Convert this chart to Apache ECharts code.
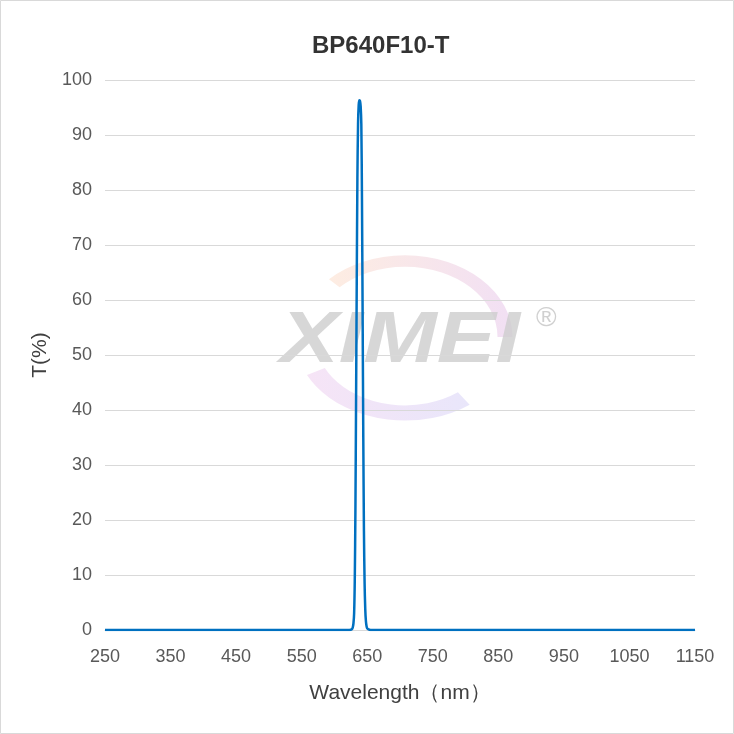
<!DOCTYPE html>
<html>
<head>
<meta charset="utf-8">
<script src="https://cdn.jsdelivr.net/npm/echarts@6/dist/echarts.min.js"></script>
<style>
html,body{margin:0;padding:0;background:#fff;}
#c{width:734px;height:734px;}
</style>
</head>
<body>
<div id="c"></div>
<script>
const title = 'BP640F10-T';
const xName = 'Wavelength（nm）';
const yName = 'T(%)';
const wavelength = [250, 300, 400, 500, 600, 620, 625, 627, 628, 629, 630, 631, 632, 633, 634, 635, 636, 637, 638, 639, 640, 641, 642, 643, 644, 645, 646, 647, 648, 649, 650, 652, 655, 660, 700, 800, 900, 1000, 1100, 1150];
const transmittance = [0, 0, 0, 0, 0, 0, 0.05, 0.2, 0.5, 1.2, 3, 9, 22, 42, 63, 82, 92, 95.5, 96.3, 96.2, 95.2, 92, 78, 57, 35, 18, 8.5, 3.8, 1.6, 0.7, 0.3, 0.1, 0, 0, 0, 0, 0, 0, 0, 0];
const xMin = 250, xMax = 1150, xLabelStep = 100;
const yMin = 0, yMax = 100, yStep = 10;

const points = wavelength.map((w, i) => [w, transmittance[i]]);
const chart = echarts.init(document.getElementById('c'), null, {renderer: 'canvas'});
const labelFont = '"Liberation Sans", "DejaVu Sans", sans-serif';
chart.setOption({
  animation: false,
  backgroundColor: '#fff',
  title: {
    text: title, left: 307, top: 29,
    textStyle: {fontSize: 24, fontWeight: 'bold', color: '#333', fontFamily: labelFont}
  },
  grid: {left: 105, right: 39, top: 80, bottom: 104, containLabel: false},
  graphic: [
    {type: 'rect', shape: {x: 0.5, y: 0.5, width: 733, height: 733}, style: {fill: 'none', stroke: '#d9d9d9', lineWidth: 1}, z: -10},
    {type: 'arc', shape: {cx: 0, cy: 0, r: 100, startAngle: Math.PI * 1.25, endAngle: Math.PI * 2.0},
     x: 405, y: 337, scaleX: 1.0, scaleY: 0.76,
     style: {fill: 'none', stroke: new echarts.graphic.LinearGradient(0, 0, 1, 0, [{offset: 0, color: 'rgba(252,215,190,0.45)'}, {offset: 1, color: 'rgba(225,185,230,0.45)'}]), lineWidth: 15}, z: -5, silent: true},
    {type: 'arc', shape: {cx: 0, cy: 0, r: 100, startAngle: Math.PI * 0.3, endAngle: Math.PI * 0.85},
     x: 405, y: 337, scaleX: 1.0, scaleY: 0.76,
     style: {fill: 'none', stroke: new echarts.graphic.LinearGradient(0, 0, 1, 0, [{offset: 0, color: 'rgba(235,195,235,0.45)'}, {offset: 1, color: 'rgba(205,200,245,0.45)'}]), lineWidth: 20}, z: -5, silent: true},
    {type: 'text', x: 280, y: 306, scaleX: 1.16, scaleY: 0.95, style: {text: 'XIMEI', fontSize: 76, fontWeight: 'bold', fontStyle: 'italic', fontFamily: labelFont, fill: 'rgba(205,205,205,0.8)'}, z: -4, silent: true},
    {type: 'text', x: 536, y: 304, style: {text: '®', fontSize: 28, fontFamily: labelFont, fill: 'rgba(200,200,200,0.85)'}, z: -4, silent: true}
  ],
  xAxis: {
    type: 'value', min: xMin, max: xMax, interval: xLabelStep / 2,
    name: xName, nameLocation: 'middle', nameGap: 53,
    nameTextStyle: {fontSize: 21, color: '#404040', fontFamily: labelFont},
    axisLine: {show: true, onZero: true, lineStyle: {color: '#d9d9d9', width: 1}},
    axisTick: {show: false},
    splitLine: {show: false},
    axisLabel: {
      margin: 18, fontSize: 18, color: '#595959', fontFamily: labelFont,
      formatter: v => ((v - xMin) % xLabelStep === 0 ? String(v) : '')
    }
  },
  yAxis: {
    type: 'value', min: yMin, max: yMax, interval: yStep,
    name: yName, nameLocation: 'middle', nameGap: 48, nameRotate: 90,
    nameTextStyle: {fontSize: 21, color: '#404040', fontFamily: labelFont},
    axisLine: {show: false},
    axisTick: {show: false},
    splitLine: {show: true, lineStyle: {color: '#d9d9d9', width: 1}},
    axisLabel: {margin: 13, fontSize: 18, color: '#595959', fontFamily: labelFont}
  },
  series: [{
    type: 'line', data: points, showSymbol: false, smooth: 0.3,
    lineStyle: {color: '#0070C0', width: 2.5},
    z: 5
  }]
});
</script>
</body>
</html>
